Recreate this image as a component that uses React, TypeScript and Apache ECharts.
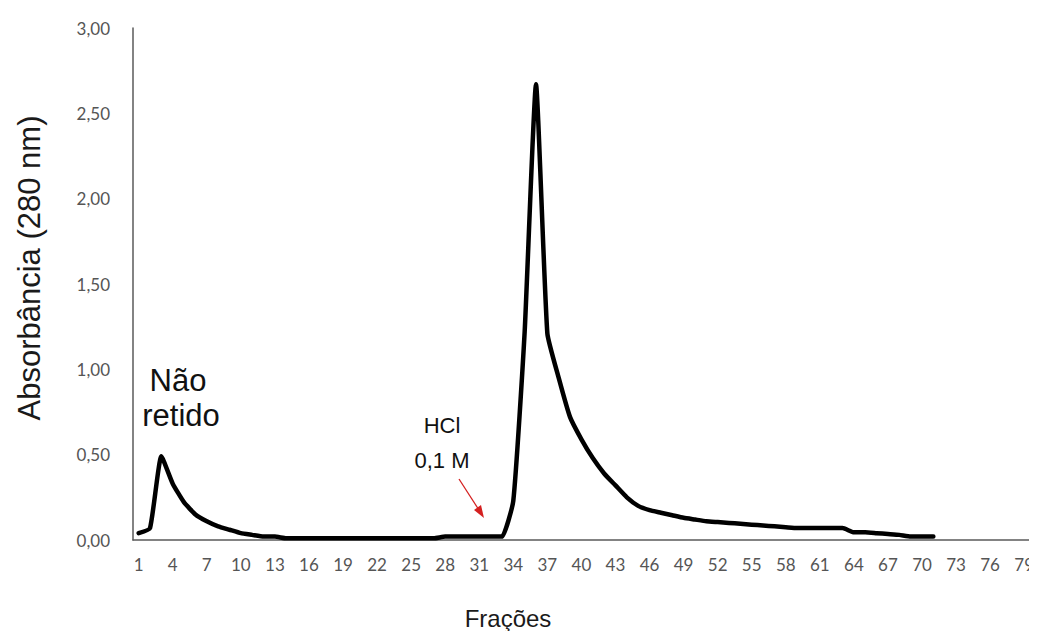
import React, { useEffect, useRef } from "react";
import * as echarts from "echarts";

// Fractions 1..79 collected from the column
const fractions: string[] = Array.from({ length: 79 }, (_, i) => String(i + 1));

// Absorbance at 280 nm for fractions 1..71
const absorbance: number[] = [
  0.04, 0.07, 0.49, 0.33, 0.22, 0.15, 0.11, 0.08, 0.06, 0.04,
  0.03, 0.02, 0.02, 0.01, 0.01, 0.01, 0.01, 0.01, 0.01, 0.01,
  0.01, 0.01, 0.01, 0.01, 0.01, 0.01, 0.01, 0.02, 0.02, 0.02,
  0.02, 0.02, 0.02, 0.23, 1.22, 2.67, 1.21, 0.95, 0.72, 0.59,
  0.48, 0.39, 0.32, 0.25, 0.2, 0.175, 0.16, 0.145, 0.13, 0.12,
  0.11, 0.105, 0.1, 0.095, 0.09, 0.085, 0.08, 0.075, 0.07, 0.07,
  0.07, 0.07, 0.07, 0.045, 0.045, 0.04, 0.035, 0.03, 0.02, 0.02,
  0.02,
];

const yTicks: number[] = [0, 0.5, 1, 1.5, 2, 2.5, 3];

const labelFont = "Lato, 'Open Sans', sans-serif";
const titleFont = "'Liberation Sans', Arial, sans-serif";

export default function App() {
  const ref = useRef<HTMLDivElement>(null);

  useEffect(() => {
    if (!ref.current) return;
    const chart = echarts.init(ref.current, undefined, { renderer: "svg" });
    chart.setOption({
      animation: false,
      backgroundColor: "#ffffff",
      grid: { left: 133, right: 3, top: 28, bottom: 99, containLabel: false },
      xAxis: {
        type: "category",
        data: fractions,
        boundaryGap: true,
        axisLine: { show: true, lineStyle: { color: "#5a5a5a", width: 1.5 } },
        axisTick: { show: false },
        axisLabel: {
          interval: 2,
          margin: 16,
          color: "#555555",
          fontSize: 17,
          fontFamily: labelFont,
        },
        splitLine: { show: false },
      },
      yAxis: {
        type: "value",
        min: yTicks[0],
        max: yTicks[yTicks.length - 1],
        interval: 0.5,
        axisLine: { show: true, lineStyle: { color: "#5a5a5a", width: 1.5 } },
        axisTick: { show: false },
        axisLabel: {
          margin: 23,
          color: "#555555",
          fontSize: 17,
          fontFamily: labelFont,
          formatter: (v: number) => v.toFixed(2).replace(".", ","),
        },
        splitLine: { show: false },
      },
      series: [
        {
          type: "line",
          data: absorbance,
          symbol: "none",
          smooth: 0.15,
          lineStyle: { color: "#000000", width: 4.5, cap: "round", join: "round" },
        },
      ],
      graphic: [
        {
          type: "text",
          x: 29,
          y: 268,
          rotation: Math.PI / 2,
          style: {
            text: "Absorbância (280 nm)",
            fontSize: 31,
            fontFamily: titleFont,
            fill: "#1a1a1a",
            align: "center",
            verticalAlign: "middle",
          },
        },
        {
          type: "text",
          x: 508,
          y: 618,
          style: {
            text: "Frações",
            fontSize: 24,
            fontFamily: titleFont,
            fill: "#1a1a1a",
            align: "center",
            verticalAlign: "middle",
          },
        },
        {
          type: "text",
          x: 178,
          y: 380,
          style: {
            text: "Não",
            fontSize: 31,
            fontFamily: titleFont,
            fill: "#111111",
            align: "center",
            verticalAlign: "middle",
          },
        },
        {
          type: "text",
          x: 181,
          y: 415,
          style: {
            text: "retido",
            fontSize: 31,
            fontFamily: titleFont,
            fill: "#111111",
            align: "center",
            verticalAlign: "middle",
          },
        },
        {
          type: "text",
          x: 442,
          y: 425,
          style: {
            text: "HCl",
            fontSize: 22,
            fontFamily: titleFont,
            fill: "#111111",
            align: "center",
            verticalAlign: "middle",
          },
        },
        {
          type: "text",
          x: 442,
          y: 460,
          style: {
            text: "0,1 M",
            fontSize: 22,
            fontFamily: titleFont,
            fill: "#111111",
            align: "center",
            verticalAlign: "middle",
          },
        },
        {
          type: "line",
          shape: { x1: 459, y1: 479, x2: 479, y2: 510 },
          style: { stroke: "#d42020", lineWidth: 1.3 },
        },
        {
          type: "polygon",
          shape: { points: [[484, 518], [474, 510], [481, 505]] },
          style: { fill: "#d42020" },
        },
      ],
    });
    return () => chart.dispose();
  }, []);

  return <div ref={ref} style={{ width: 1037, height: 639, margin: -8 }} />;
}
